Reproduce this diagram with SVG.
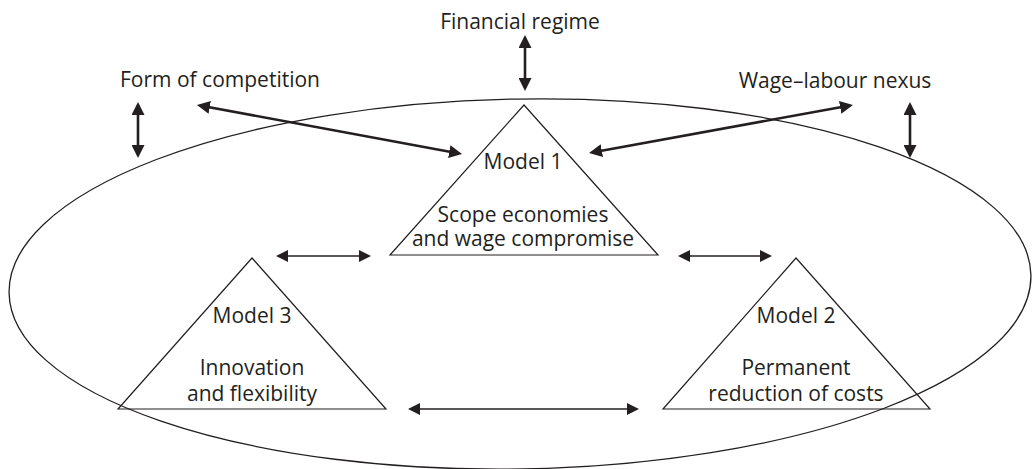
<svg xmlns="http://www.w3.org/2000/svg" width="1032" height="469" viewBox="0 0 1032 469">
<style>
text{font-family:"Open Sans","DejaVu Sans",sans-serif;font-size:21px;fill:#231f20;text-anchor:middle}
.tri{fill:none;stroke:#231f20;stroke-width:1.2}
.ell{fill:none;stroke:#231f20;stroke-width:1.3}
.thick{stroke:#231f20;stroke-width:2.6;fill:none;marker-start:url(#hb);marker-end:url(#hb)}
.thin{stroke:#231f20;stroke-width:1.5;fill:none;marker-start:url(#hs);marker-end:url(#hs)}
</style>
<defs>
<marker id="hb" markerUnits="userSpaceOnUse" viewBox="0 0 13 13" markerWidth="13" markerHeight="13" refX="10" refY="6.5" orient="auto-start-reverse"><path d="M0,0 L13,6.5 L0,13 z" fill="#231f20"/></marker>
<marker id="hs" markerUnits="userSpaceOnUse" viewBox="0 0 12 12" markerWidth="12" markerHeight="12" refX="9" refY="6" orient="auto-start-reverse"><path d="M0,0 L12,6 L0,12 z" fill="#231f20"/></marker>
</defs>
<ellipse class="ell" cx="520" cy="284" rx="511" ry="185" transform="rotate(-1 520 284)"/>
<g id="financial-regime"><text x="520" y="29">Financial regime</text></g>
<g id="form-of-competition"><text x="220" y="87">Form of competition</text></g>
<g id="wage-labour-nexus"><text x="835" y="88">Wage–labour nexus</text></g>
<g id="model1"><polygon class="tri" points="524,105 658,255 390,255"/><text x="523" y="169">Model 1</text><text x="523" y="222">Scope economies</text><text x="523" y="246">and wage compromise</text></g>
<g id="model3"><polygon class="tri" points="252,258 386,409 118,409"/><text x="252" y="323">Model 3</text><text x="252" y="375">Innovation</text><text x="252" y="401">and flexibility</text></g>
<g id="model2"><polygon class="tri" points="796,258 930,409 663,409"/><text x="796" y="323">Model 2</text><text x="796" y="375">Permanent</text><text x="796" y="401">reduction of costs</text></g>
<g id="connectors">
<line class="thick" x1="525" y1="38" x2="525" y2="88"/>
<line class="thick" x1="138" y1="105" x2="138" y2="155"/>
<line class="thick" x1="910" y1="105" x2="910" y2="155"/>
<line class="thick" x1="199.9" y1="105.5" x2="459.1" y2="153.5"/>
<line class="thick" x1="592" y1="152.5" x2="850" y2="105.5"/>
<line class="thin" x1="279" y1="256" x2="368" y2="256"/>
<line class="thin" x1="681" y1="256" x2="769" y2="256"/>
<line class="thin" x1="411" y1="409" x2="636" y2="409"/>
</g>
</svg>
